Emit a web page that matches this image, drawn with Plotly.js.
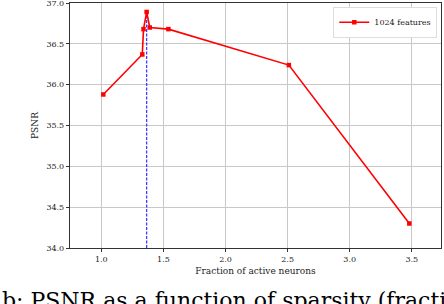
<!DOCTYPE html>
<html>
<head>
<meta charset="utf-8">
<script src="https://cdn.plot.ly/plotly-3.0.1.min.js"></script>
<style>
html,body{margin:0;padding:0;background:#fff;overflow:hidden;}
#chart{width:444px;height:304px;}
</style>
</head>
<body>
<div id="chart"></div>
<script>
// Data
const fraction = [1.016, 1.33, 1.34, 1.365, 1.39, 1.54, 2.51, 3.48];
const psnr = [35.88, 36.37, 36.68, 36.89, 36.70, 36.68, 36.24, 34.30];
const bestX = [1.365, 1.365];
const bestY = [34.0, 36.89];
const seriesName = '1024 features';
const xTicks = [1.0, 1.5, 2.0, 2.5, 3.0, 3.5];
const yTicks = [34.0, 34.5, 35.0, 35.5, 36.0, 36.5, 37.0];

const serif = 'DejaVu Serif, serif';

const traces = [
  {
    x: bestX, y: bestY, mode: 'lines', showlegend: false, hoverinfo: 'skip',
    line: {color: '#3d3dff', width: 1.3, dash: '3px,1.5px'}
  },
  {
    x: fraction, y: psnr, mode: 'lines+markers', name: seriesName,
    line: {color: '#ff0000', width: 1.6},
    marker: {color: '#ff0000', symbol: 'square', size: 4.5}
  }
];

const axisCommon = {
  showline: true, mirror: true, linecolor: '#333', linewidth: 1.2,
  showgrid: true, gridcolor: '#c8c8c8', gridwidth: 1,
  ticks: 'outside', ticklen: 3, tickcolor: '#333', tickwidth: 1,
  zeroline: false, ticklabeloverflow: 'allow',
  tickfont: {family: serif, size: 8, color: '#222'}
};

const layout = {
  width: 444, height: 304,
  margin: {l: 70, r: 3, t: 3, b: 56},
  paper_bgcolor: '#fff', plot_bgcolor: '#fff',
  xaxis: Object.assign({}, axisCommon, {
    range: [0.748, 3.735], tickvals: xTicks, tickformat: '.1f',
    title: {text: 'Fraction of active neurons', font: {family: serif, size: 9, color: '#222'}, standoff: 5}
  }),
  yaxis: Object.assign({}, axisCommon, {
    range: [34, 37], tickvals: yTicks, tickformat: '.1f',
    title: {text: 'PSNR', font: {family: serif, size: 9, color: '#222'}, standoff: 6}
  }),
  legend: {
    x: 0.99, y: 0.985, xanchor: 'right', yanchor: 'top',
    bgcolor: '#fff', bordercolor: '#ddd', borderwidth: 1,
    font: {family: serif, size: 8, color: '#222'},
    itemwidth: 30, tracegroupgap: 0
  },
  annotations: [{
    text: 'b: PSNR as a function of sparsity (fraction of active neurons)',
    xref: 'paper', yref: 'paper', x: -0.19, y: -0.155, xanchor: 'left', yanchor: 'top',
    showarrow: false, font: {family: serif, size: 22, color: '#000'}
  }],
  showlegend: true
};

Plotly.newPlot('chart', traces, layout, {displayModeBar: false, staticPlot: true});
</script>
</body>
</html>
